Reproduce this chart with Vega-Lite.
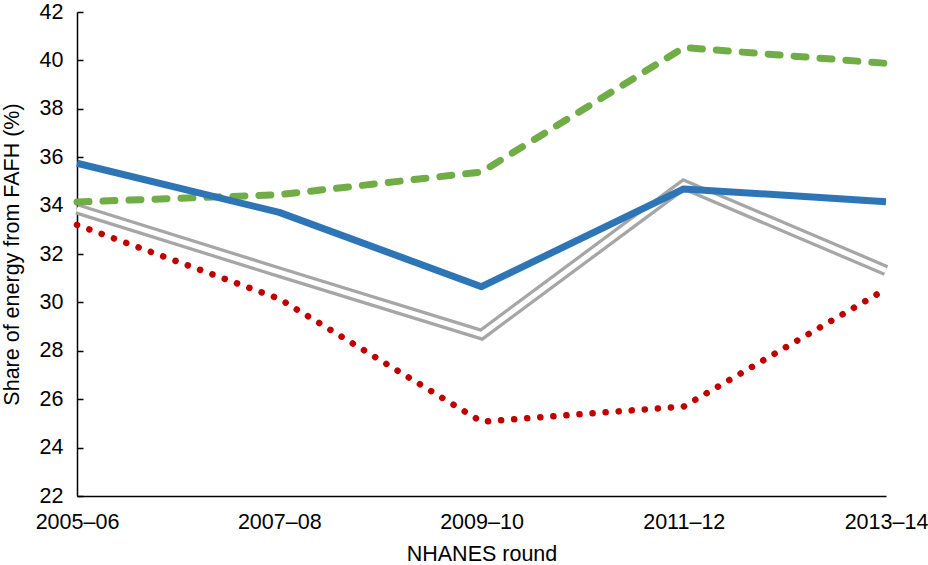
{
  "$schema": "https://vega.github.io/schema/vega-lite/v6.json",
  "width": 809,
  "height": 484,
  "autosize": {"type": "none"},
  "padding": {"left": 77, "top": 12, "right": 42, "bottom": 69},
  "background": "white",
  "config": {
    "view": {"stroke": null},
    "font": "Liberation Sans",
    "axis": {"grid": false, "domainColor": "#000000", "domainWidth": 1.5, "tickColor": "#000000", "tickWidth": 1.5, "labelColor": "#000000", "titleColor": "#000000", "labelFont": "Liberation Sans", "titleFont": "Liberation Sans", "titleFontWeight": "normal"}
  },
  "data": {
    "values": [
      {"round": "2005–06", "series": "grey", "value": 33.86},
      {"round": "2007–08", "series": "grey", "value": 31.25},
      {"round": "2009–10", "series": "grey", "value": 28.67},
      {"round": "2011–12", "series": "grey", "value": 34.87},
      {"round": "2013–14", "series": "grey", "value": 31.32},
      {"round": "2005–06", "series": "blue", "value": 35.75},
      {"round": "2007–08", "series": "blue", "value": 33.72},
      {"round": "2009–10", "series": "blue", "value": 30.65},
      {"round": "2011–12", "series": "blue", "value": 34.69},
      {"round": "2013–14", "series": "blue", "value": 34.16},
      {"round": "2005–06", "series": "green", "value": 34.15},
      {"round": "2007–08", "series": "green", "value": 34.45},
      {"round": "2009–10", "series": "green", "value": 35.39},
      {"round": "2011–12", "series": "green", "value": 40.53},
      {"round": "2013–14", "series": "green", "value": 39.88},
      {"round": "2005–06", "series": "red", "value": 33.2},
      {"round": "2007–08", "series": "red", "value": 30.15},
      {"round": "2009–10", "series": "red", "value": 25.07},
      {"round": "2011–12", "series": "red", "value": 25.7},
      {"round": "2013–14", "series": "red", "value": 30.55}
    ]
  },
  "encoding": {
    "x": {
      "field": "round", "type": "ordinal",
      "scale": {"type": "point", "padding": 0},
      "sort": null,
      "axis": {"title": "NHANES round", "labelAngle": 0, "ticks": false, "labelPadding": 15, "labelFontSize": 21.5, "titleFontSize": 21.5, "titlePadding": 11, "labelOverlap": false}
    },
    "y": {
      "field": "value", "type": "quantitative",
      "scale": {"domain": [22, 42], "nice": false, "zero": false},
      "axis": {"title": "Share of energy from FAFH (%)", "values": [22, 24, 26, 28, 30, 32, 34, 36, 38, 40, 42], "tickSize": -6, "labelPadding": 20, "labelFontSize": 21.5, "titleFontSize": 21.5, "titlePadding": 16}
    }
  },
  "layer": [
    {"transform": [{"filter": "datum.series === 'grey'"}], "mark": {"type": "line", "color": "#a6a6a6", "strokeWidth": 11.5, "strokeJoin": "miter"}},
    {"transform": [{"filter": "datum.series === 'grey'"}], "mark": {"type": "line", "color": "#ffffff", "strokeWidth": 5, "strokeJoin": "miter"}},
    {"transform": [{"filter": "datum.series === 'red'"}], "mark": {"type": "line", "color": "#c00000", "strokeWidth": 6.5, "strokeCap": "round", "strokeDash": [0.1, 13]}},
    {"transform": [{"filter": "datum.series === 'green'"}], "mark": {"type": "line", "color": "#70ad47", "strokeWidth": 7, "strokeCap": "round", "strokeDash": [12, 14]}},
    {"transform": [{"filter": "datum.series === 'blue'"}], "mark": {"type": "line", "color": "#2e75b6", "strokeWidth": 7, "strokeJoin": "round"}}
  ]
}
